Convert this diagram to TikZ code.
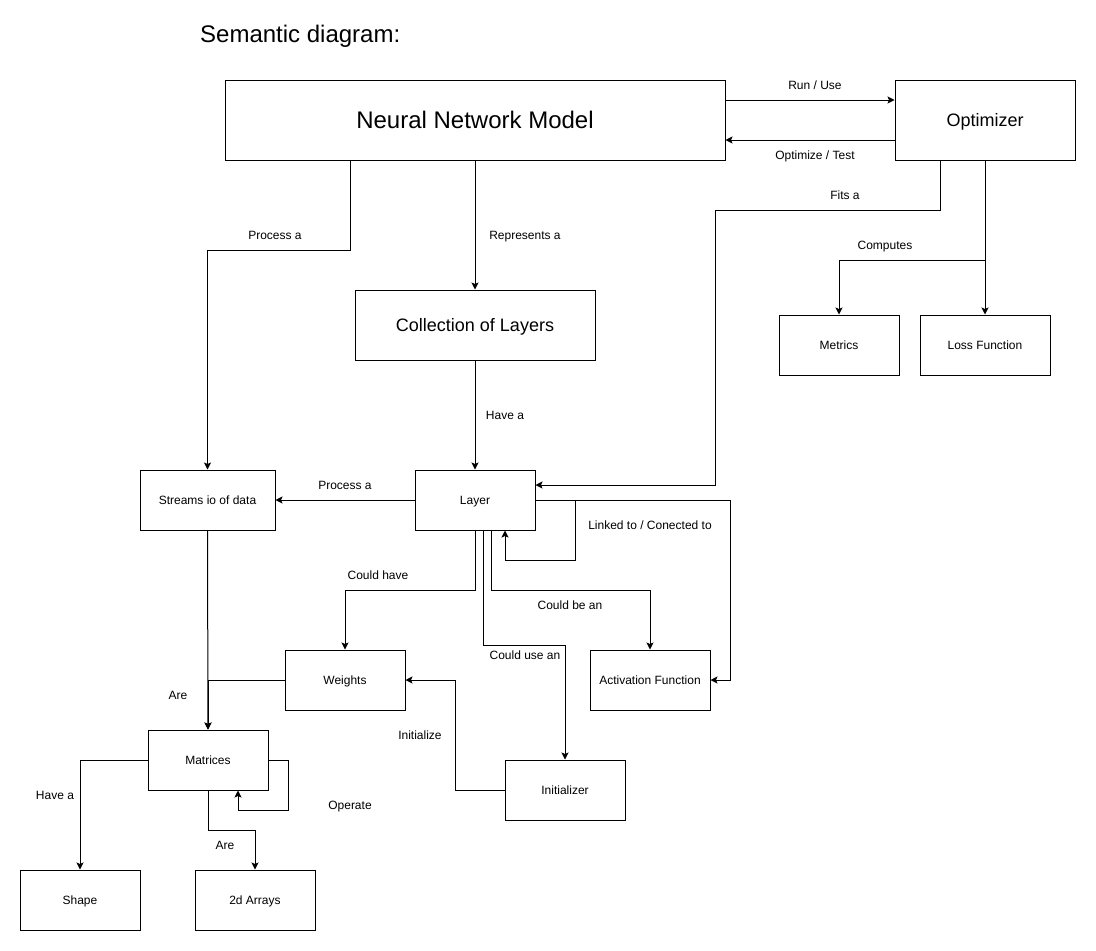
\documentclass[tikz,border=0pt]{standalone}
\usepackage{fontspec}
\setmainfont{Liberation Sans}
\usetikzlibrary{arrows.meta,calc}
\tikzset{
  smalltxt/.style={font=\fontsize{12}{14}\selectfont, text height=10.86pt, text depth=2.54pt},
  bigtxt/.style={font=\fontsize{24}{28}\selectfont, text height=21.72pt, text depth=5.09pt},
  midtxt/.style={font=\fontsize{18}{22}\selectfont, text height=16.29pt, text depth=3.82pt},
  box/.style={draw, line width=1pt, rectangle, inner sep=0pt, align=center, smalltxt},
  lbl/.style={inner sep=0pt, smalltxt},
  arr/.style={line width=1pt, -{Stealth[length=7pt,width=7pt,inset=1.5pt]}},
}
\begin{document}
\begin{tikzpicture}[x=1pt,y=-1pt]
\useasboundingbox (0,0) rectangle (1096,951);
% title
\node[lbl, bigtxt, anchor=west] (title) at (200,34) {Semantic diagram:};
% nodes
\node[box, bigtxt, minimum width=500pt, minimum height=80pt] (nnm) at (475,120) {Neural Network Model};
\node[box, midtxt, minimum width=180pt, minimum height=80pt] (opt) at (985,120) {Optimizer};
\node[box, midtxt, minimum width=240pt, minimum height=70pt] (col) at (475,325) {Collection of Layers};
\node[box, minimum width=120pt, minimum height=60pt] (metrics) at (839,345) {Metrics};
\node[box, minimum width=130pt, minimum height=60pt] (loss) at (985,345) {Loss Function};
\node[box, minimum width=135pt, minimum height=60pt] (streams) at (207.5,500) {Streams io of data};
\node[box, minimum width=120pt, minimum height=60pt] (layer) at (475,500) {Layer};
\node[box, minimum width=120pt, minimum height=60pt] (weights) at (345,680) {Weights};
\node[box, minimum width=120pt, minimum height=60pt] (act) at (650,680) {Activation Function};
\node[box, minimum width=120pt, minimum height=60pt] (matrices) at (208,760) {Matrices};
\node[box, minimum width=120pt, minimum height=60pt] (init) at (565,790) {Initializer};
\node[box, minimum width=120pt, minimum height=60pt] (shape) at (80,900) {Shape};
\node[box, minimum width=120pt, minimum height=60pt] (arrays) at (255,900) {2d Arrays};
% connectors
\draw[arr] ([yshift=20pt]nnm.east) -- ([yshift=20pt]opt.west);
\node[lbl] (l1) at (815,85) {Run / Use};
\draw[arr] ([yshift=-20pt]opt.west) -- ([yshift=-20pt]nnm.east);
\node[lbl] (l2) at (815,155) {Optimize / Test};
\draw[arr] ([xshift=-45pt]opt.south) |- (715,210) |- ([yshift=15pt]layer.east);
\node[lbl] (l3) at (845,195) {Fits a};
\draw[arr] (opt.south) -- (985,260) -| (metrics.north);
\node[lbl] (l4) at (885,245) {Computes};
\draw[arr] (opt.south) -- (loss.north);
\draw[arr] (nnm.south) -- (col.north);
\node[lbl] (l5) at (525,235) {Represents a};
\draw[arr] ([xshift=-125pt]nnm.south) -- (350,250) -| (streams.north);
\node[lbl] (l6) at (275,235) {Process a};
\draw[arr] (col.south) -- (layer.north);
\node[lbl] (l7) at (505,415) {Have a};
\draw[arr] (layer.west) -- (streams.east);
\node[lbl] (l8) at (345,485) {Process a};
\draw[arr] (layer.east) -- (575,500) -- (575,560) -| ([xshift=30pt]layer.south);
\node[lbl] (l9) at (650,525) {Linked to / Conected to};
\draw[arr] (layer.east) -- (730,500) |- (act.east);
\draw[arr] (layer.south) -- (475,590) -| (weights.north);
\node[lbl] (l10) at (378,575) {Could have};
\draw[arr] ([xshift=16pt]layer.south) -- (491,590) -| (act.north);
\node[lbl] (l11) at (570,605) {Could be an};
\draw[arr] ([xshift=8pt]layer.south) -- (483,645) -| (init.north);
\node[lbl] (l12) at (525,655) {Could use an};
\draw[arr] (streams.south) -- (matrices.north);
\draw[arr] (weights.west) -| (matrices.north);
\node[lbl] (l13) at (178,695) {Are};
\draw[arr] (init.west) -- (455,790) |- (weights.east);
\node[lbl] (l14) at (420,735) {Initialize};
\draw[arr] (matrices.east) -- (288,760) -- (288,810) -| ([xshift=30pt]matrices.south);
\node[lbl] (l15) at (350,805) {Operate};
\draw[arr] (matrices.west) -| (shape.north);
\node[lbl] (l16) at (55,795) {Have a};
\draw[arr] (matrices.south) -- (208,830) -| (arrays.north);
\node[lbl] (l17) at (225,845) {Are};
\end{tikzpicture}
\end{document}
